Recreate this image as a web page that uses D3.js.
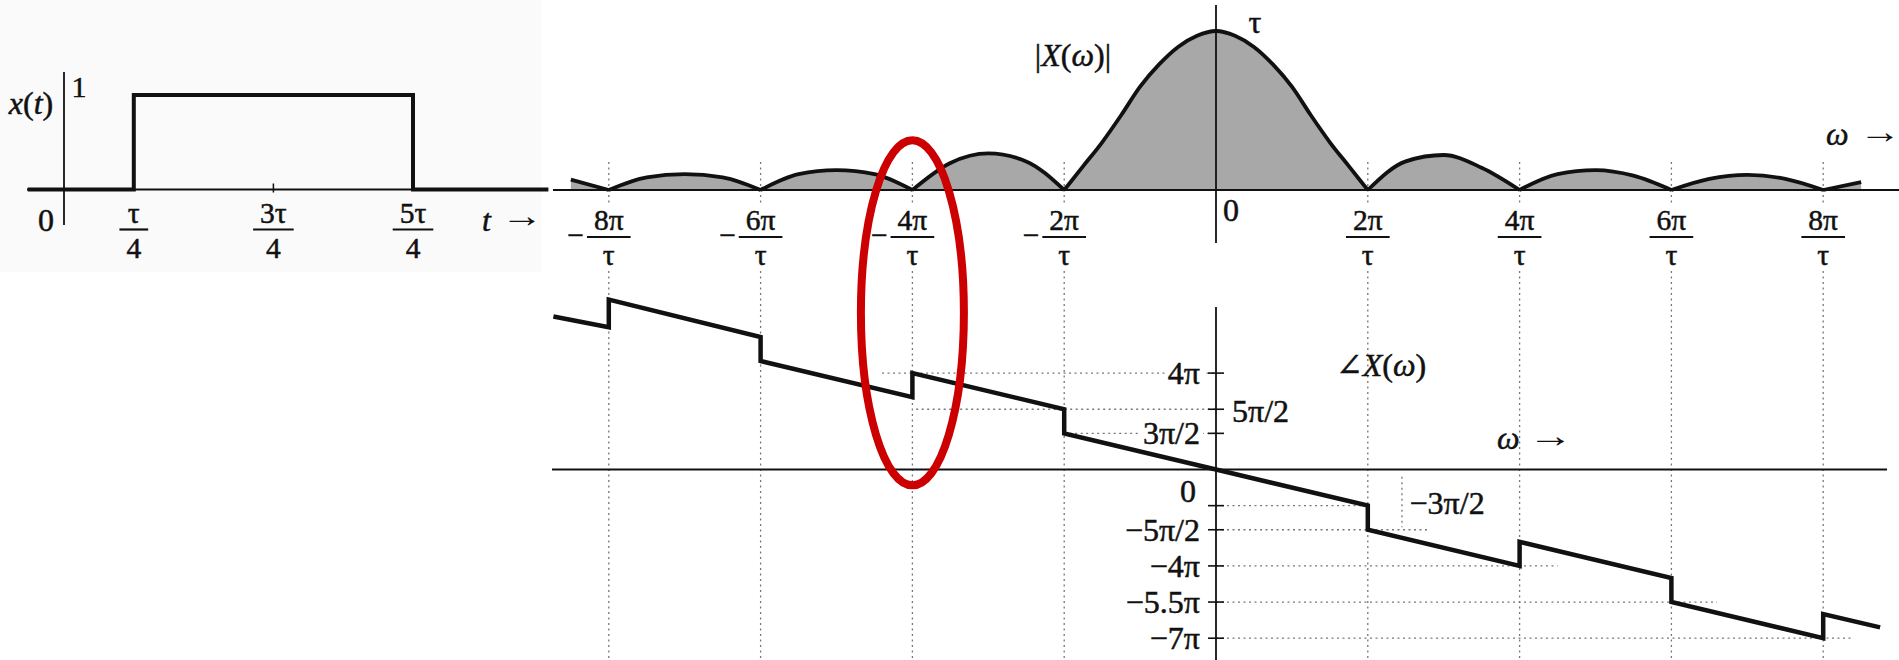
<!DOCTYPE html>
<html><head><meta charset="utf-8">
<script src="https://cdn.jsdelivr.net/npm/d3@7"></script>
<style>
html,body{margin:0;padding:0;background:#fff;}
svg{display:block;}
text{font-family:"Liberation Serif","Times New Roman","DejaVu Serif",serif;fill:#111;}
</style></head><body>
<svg id="chart" width="1899" height="660"></svg>
<script>
// ---------------- DATA ----------------
// x(t): rectangular pulse, t in units of tau
const pulseT = [-0.13, 0.25, 0.25, 1.25, 1.25, 1.735];
const pulseX = [0, 0, 1, 1, 0, 0];
const timeTicks = [0.25, 0.75, 1.25];
const timeTickNum = ["τ", "3τ", "5τ"];
const timeTickDen = ["4", "4", "4"];

// |X(ω)|: ω in units of π/τ, magnitude in units of τ
const magW = [-8.5,-8,-7.5,-7,-6.5,-6,-5.5,-5,-4.5,-4,-3.5,-3,-2.5,-2,-1.75,-1.5,-1.25,-1,-0.75,-0.5,-0.25,0,0.25,0.5,0.75,1,1.25,1.5,1.75,2,2.5,3,3.5,4,4.5,5,5.5,6,6.5,7,7.5,8,8.5];
const magV = [0.065,0,0.08,0.10,0.08,0,0.10,0.125,0.10,0,0.17,0.23,0.18,0,0.15,0.30,0.47,0.65,0.79,0.90,0.97,1,0.97,0.90,0.79,0.65,0.47,0.30,0.15,0,0.18,0.22,0.14,0,0.10,0.125,0.09,0,0.07,0.095,0.07,0,0.05];
const freqTicks = [-8, -6, -4, -2, 2, 4, 6, 8];
const freqTickNum = ["8π", "6π", "4π", "2π", "2π", "4π", "6π", "8π"];
const freqTickDen = ["τ", "τ", "τ", "τ", "τ", "τ", "τ", "τ"];

// ∠X(ω): ω in units of π/τ, phase in units of π
const phaseW = [-8.73,-8,-8,-6,-6,-4,-4,-2,-2,0,2,2,4,4,6,6,8,8,8.75];
const phaseV = [6.35,5.9,7.05,5.5,4.5,3,4,2.5,1.5,0,-1.5,-2.5,-4,-3,-4.5,-5.5,-7,-6,-6.55];
const phaseTicks = [4, 2.5, 1.5, -1.5, -2.5, -4, -5.5, -7];
const phaseTickLabels = ["4π", "5π/2", "3π/2", "−3π/2", "−5π/2", "−4π", "−5.5π", "−7π"];
const phaseGuideFrom = [-4.4, -3.95, -2, 0, 0, 0, 0, 0];
const phaseGuideTo = [0, 0, 0, 2, 2.8, 4.5, 6.6, 8.4];

// highlighted region (red ellipse) around ω = -4π/τ
const highlightW = -4;
const highlightPhase = 6.5;

// ---------------- DRAW ----------------
const svg = d3.select("#chart");
const FS = 32;
const FF = 29.5;   // fraction label size
const INK = "#111";

const tX = d3.scaleLinear().domain([0, 1.25]).range([64, 413]);
const tY = d3.scaleLinear().domain([0, 1]).range([189.5, 95]);
const wX = d3.scaleLinear().domain([-8, 8]).range([608.8, 1823.2]);
const mY = d3.scaleLinear().domain([0, 1]).range([190, 31]);
const pY = d3.scaleLinear().domain([-7, 4]).range([638.2, 373.1]);

svg.append("rect").attr("x",0).attr("y",0).attr("width",1899).attr("height",660).attr("fill","#fff");
svg.append("rect").attr("x",0).attr("y",0).attr("width",541).attr("height",272).attr("fill","#fafafa");

function txt(g, x, y, s, opts = {}) {
  const t = g.append("text").attr("x", x).attr("y", y)
    .attr("text-anchor", opts.anchor || "start")
    .attr("dominant-baseline", opts.baseline || "central")
    .attr("font-size", opts.fs || FS)
    .attr("stroke", INK)
    .attr("stroke-width", 0.5)
    .attr("paint-order", "stroke");
  if (opts.italic) t.attr("font-style", "italic");
  if (s !== null) t.text(s);
  return t;
}

// stacked fraction: numerator, bar, denominator
function frac(g, cx, num, den, yNum, yBar, yDen, neg) {
  const tn = txt(g, cx, yNum, num, {anchor: "middle", fs: FF});
  const td = txt(g, cx, yDen, den, {anchor: "middle", fs: FF});
  const w = Math.max(tn.node().getComputedTextLength(), td.node().getComputedTextLength()) + 14;
  g.append("line").attr("x1", cx - w/2).attr("x2", cx + w/2).attr("y1", yBar).attr("y2", yBar)
    .attr("stroke", INK).attr("stroke-width", 2.2);
  if (neg) {
    txt(g, cx - w/2 - 3, yBar + 0.26 * FF, "−", {anchor: "end", baseline: "alphabetic", fs: FF});
  }
}

function arrow(g, x, y, len) {
  g.append("text").attr("x", x).attr("y", y).attr("dominant-baseline", "central")
    .attr("font-size", 34).attr("font-weight", "bold")
    .attr("textLength", len).attr("lengthAdjust", "spacingAndGlyphs").text("→");
}

// ===== Left panel: x(t) =====
const gL = svg.append("g");
gL.append("line").attr("x1", 27).attr("x2", 548).attr("y1", tY(0)).attr("y2", tY(0))
  .attr("stroke", INK).attr("stroke-width", 2.2);
gL.append("line").attr("x1", tX(0)).attr("x2", tX(0)).attr("y1", 72).attr("y2", 225)
  .attr("stroke", INK).attr("stroke-width", 1.8);
gL.append("path")
  .attr("d", d3.line().x((d,i)=>tX(pulseT[i])).y((d,i)=>tY(pulseX[i]))(pulseT))
  .attr("fill","none").attr("stroke", INK).attr("stroke-width", 4).attr("stroke-linejoin","miter");
gL.append("line").attr("x1", tX(0.75)).attr("x2", tX(0.75)).attr("y1", tY(0)-6).attr("y2", tY(0)+3)
  .attr("stroke", INK).attr("stroke-width", 1.5);
timeTicks.forEach((t,i)=> frac(gL, tX(t), timeTickNum[i], timeTickDen[i], 213, 229.5, 248, false));
txt(gL, tX(0)-18, 220, "0", {anchor: "middle"});
txt(gL, tX(0)+15, 86, "1", {anchor: "middle", fs: 30});
const xt = txt(gL, 31, 103, null, {anchor: "middle"});
xt.append("tspan").attr("font-style","italic").text("x");
xt.append("tspan").text("(");
xt.append("tspan").attr("font-style","italic").text("t");
xt.append("tspan").text(")");
txt(gL, 482, 220, "t", {italic: true});
arrow(gL, 501, 215, 42);

// ===== Magnitude panel =====
const gM = svg.append("g");
freqTicks.forEach(w => {
  [[162, 206], [271, 660]].forEach(([a,b]) => {
    gM.append("line").attr("x1", wX(w)).attr("x2", wX(w)).attr("y1", a).attr("y2", b)
      .attr("stroke","#777").attr("stroke-width",1.3).attr("stroke-dasharray","2 3.5");
  });
});
const pts = magW.map((w,i)=>[w, magV[i]]);
const lobes = [];
let cur = [];
pts.forEach(p => { cur.push(p); if (p[1] === 0 && cur.length > 1) { lobes.push(cur); cur = [p]; } });
if (cur.length > 1) lobes.push(cur);
const area = d3.area().x(d=>wX(d[0])).y0(mY(0)).y1(d=>mY(d[1])).curve(d3.curveMonotoneX);
const line = d3.line().x(d=>wX(d[0])).y(d=>mY(d[1])).curve(d3.curveMonotoneX);
lobes.forEach(l => gM.append("path").attr("d", area(l)).attr("fill","#a8a8a8"));
gM.append("line").attr("x1", 553).attr("x2", 1899).attr("y1", mY(0)).attr("y2", mY(0))
  .attr("stroke", INK).attr("stroke-width", 2.2);
lobes.forEach(l => gM.append("path").attr("d", line(l)).attr("fill","none")
  .attr("stroke", INK).attr("stroke-width", 3.8).attr("stroke-linejoin","round"));
gM.append("line").attr("x1", wX(0)).attr("x2", wX(0)).attr("y1", 5).attr("y2", 243)
  .attr("stroke", INK).attr("stroke-width", 1.8);
freqTicks.forEach((w,i)=> frac(gM, wX(w), freqTickNum[i], freqTickDen[i], 220, 237, 254.5, w < 0));
txt(gM, wX(0)+7, 210, "0");
txt(gM, wX(0)+39, 22, "τ", {anchor: "middle"});
const mt = txt(gM, 1073, 55, null, {anchor: "middle"});
mt.append("tspan").text("|");
mt.append("tspan").attr("font-style","italic").text("X");
mt.append("tspan").text("(");
mt.append("tspan").attr("font-style","italic").text("ω");
mt.append("tspan").text(")|");
txt(gM, 1826, 134, "ω", {italic: true});
arrow(gM, 1859, 131, 42);

// ===== Phase panel =====
const gP = svg.append("g");
phaseTicks.forEach((p,i) => {
  gP.append("line").attr("x1", wX(phaseGuideFrom[i])).attr("x2", wX(phaseGuideTo[i]))
    .attr("y1", pY(p)).attr("y2", pY(p))
    .attr("stroke","#777").attr("stroke-width",1.3).attr("stroke-dasharray","2 3.5");
});
gP.append("line").attr("x1", wX(2.45)).attr("x2", wX(2.45)).attr("y1", pY(-0.3)).attr("y2", pY(-2.4))
  .attr("stroke","#777").attr("stroke-width",1.3).attr("stroke-dasharray","2 3.5");
gP.append("line").attr("x1", 552).attr("x2", 1887).attr("y1", pY(0)).attr("y2", pY(0))
  .attr("stroke", INK).attr("stroke-width", 2);
gP.append("line").attr("x1", wX(0)).attr("x2", wX(0)).attr("y1", 307).attr("y2", 660)
  .attr("stroke", INK).attr("stroke-width", 1.8);
phaseTicks.forEach(p => {
  gP.append("line").attr("x1", wX(0)-8).attr("x2", wX(0)+8).attr("y1", pY(p)).attr("y2", pY(p))
    .attr("stroke", INK).attr("stroke-width", 1.6);
});
phaseTicks.forEach((p,i) => {
  const lab = phaseTickLabels[i];
  let x = wX(0) - 16, anchor = "end", y = pY(p);
  if (lab === "5π/2") { x = wX(0) + 16; anchor = "start"; y = pY(p) + 2; }
  if (lab === "−3π/2") { x = wX(2.55); anchor = "start"; y = pY(p) - 3; }
  const t = txt(gP, x, y, lab, {anchor});
  const bb = t.node().getBBox();
  gP.insert("rect", () => t.node()).attr("x", bb.x - 3).attr("y", bb.y + 5)
    .attr("width", bb.width + 6).attr("height", bb.height - 10).attr("fill", "#fff");
});
txt(gP, wX(0)-28, pY(0)+21, "0", {anchor: "middle"});
gP.append("path")
  .attr("d", d3.line().x((d,i)=>wX(phaseW[i])).y((d,i)=>pY(phaseV[i]))(phaseW))
  .attr("fill","none").attr("stroke", INK).attr("stroke-width", 4.5).attr("stroke-linejoin","miter");
const pt = txt(gP, 1336, 365, null);
pt.append("tspan").text("∠");
pt.append("tspan").attr("font-style","italic").text("X");
pt.append("tspan").text("(");
pt.append("tspan").attr("font-style","italic").text("ω");
pt.append("tspan").text(")");
txt(gP, 1497, 438, "ω", {italic: true});
arrow(gP, 1528, 435, 45);

// red highlight ellipse
svg.append("ellipse").attr("cx", wX(highlightW)).attr("cy", pY(highlightPhase))
  .attr("rx", 51.5).attr("ry", 172.5).attr("fill","none")
  .attr("stroke","#cc0000").attr("stroke-width", 8);
</script>
</body></html>
